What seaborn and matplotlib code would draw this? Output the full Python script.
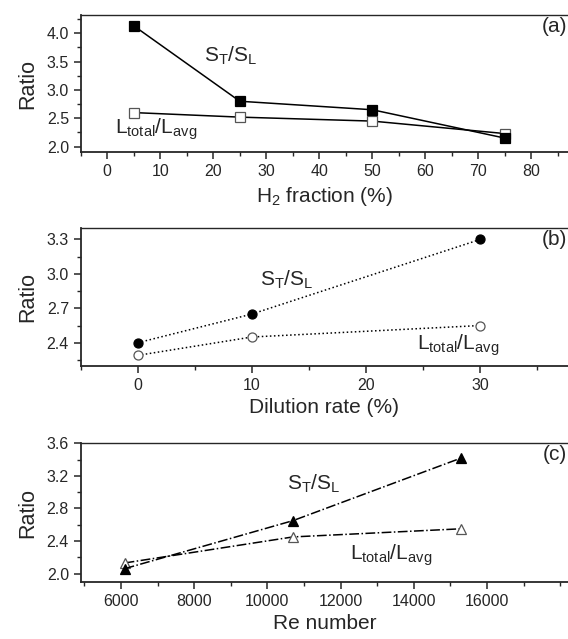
import numpy as np
import pandas as pd
import matplotlib
matplotlib.use("Agg")
import matplotlib.pyplot as plt
from matplotlib.ticker import MultipleLocator, FixedLocator
import seaborn as sns

# dados
h2_frac = [5, 25, 50, 75]
h2_st_sl = [4.13, 2.80, 2.65, 2.15]
h2_ltot = [2.60, 2.52, 2.45, 2.23]

dil_rate = [0, 10, 30]
dil_st_sl = [2.40, 2.65, 3.30]
dil_ltot = [2.29, 2.45, 2.55]

re_num = [6100, 10700, 15300]
re_st_sl = [2.06, 2.65, 3.42]
re_ltot = [2.13, 2.45, 2.55]
re_ticks = [6000, 8000, 10000, 12000, 14000, 16000]

sns.set_style("ticks")
plt.rcParams['font.family'] = ['Liberation Sans', 'DejaVu Sans']
plt.rcParams['mathtext.fontset'] = 'custom'
plt.rcParams['mathtext.rm'] = 'Liberation Sans'
plt.rcParams['mathtext.it'] = 'Liberation Sans'

W, H = 568, 639
fig = plt.figure(figsize=(W / 100, H / 100), dpi=100)

def px_axes(top, bottom, left=80.7, right=568):
    return fig.add_axes([left / W, 1 - bottom / H, (right - left) / W, (bottom - top) / H])

ax_a = px_axes(15, 152.3)
ax_b = px_axes(228, 365.7)
ax_c = px_axes(443.3, 581.7)

st_lbl = r'$\mathregular{S_T/S_L}$'
lt_lbl = r'$\mathregular{L_{total}/L_{avg}}$'

def series(ax, x, y, marker, ls, filled, ms):
    df = pd.DataFrame({'x': x, 'y': y})
    fc = 'black' if filled else 'white'
    ec = 'black' if filled else '#555555'
    sns.lineplot(data=df, x='x', y='y', ax=ax, color='black', linestyle=ls,
                 linewidth=1.1, marker=marker, markersize=ms,
                 markerfacecolor=fc, markeredgecolor=ec, markeredgewidth=0.9,
                 sort=False, errorbar=None, zorder=3 if filled else 2)

# (a)
series(ax_a, h2_frac, h2_ltot, 's', '-', False, 6.5)
series(ax_a, h2_frac, h2_st_sl, 's', '-', True, 6.5)
ax_a.set_xlim(-5, 86.9)
ax_a.set_ylim(1.9, 4.32)
ax_a.xaxis.set_major_locator(MultipleLocator(10))
ax_a.xaxis.set_minor_locator(MultipleLocator(5))
ax_a.yaxis.set_major_locator(MultipleLocator(0.5))
ax_a.yaxis.set_minor_locator(MultipleLocator(0.25))
ax_a.set_xlabel(r'H$_\mathregular{2}$ fraction (%)')
ax_a.text(18.3, 3.5, st_lbl, fontsize=15, va='baseline')
ax_a.text(1.5, 2.23, lt_lbl, fontsize=15, va='baseline')

# (b)
series(ax_b, dil_rate, dil_ltot, 'o', ':', False, 6.5)
series(ax_b, dil_rate, dil_st_sl, 'o', ':', True, 6.5)
ax_b.set_xlim(-5, 37.7)
ax_b.set_ylim(2.2, 3.4)
ax_b.xaxis.set_major_locator(MultipleLocator(10))
ax_b.xaxis.set_minor_locator(MultipleLocator(5))
ax_b.yaxis.set_major_locator(MultipleLocator(0.3))
ax_b.yaxis.set_minor_locator(MultipleLocator(0.15))
ax_b.set_xlabel('Dilution rate (%)')
ax_b.text(10.7, 2.9, st_lbl, fontsize=15, va='baseline')
ax_b.text(24.5, 2.34, lt_lbl, fontsize=15, va='baseline')

# (c)
series(ax_c, re_num, re_ltot, '^', '-.', False, 7.5)
series(ax_c, re_num, re_st_sl, '^', '-.', True, 7.5)
ax_c.set_xlim(4900, 18215)
ax_c.set_ylim(1.9, 3.6)
ax_c.xaxis.set_major_locator(FixedLocator(re_ticks))
ax_c.xaxis.set_minor_locator(MultipleLocator(1000))
ax_c.yaxis.set_major_locator(MultipleLocator(0.4))
ax_c.yaxis.set_minor_locator(MultipleLocator(0.2))
ax_c.set_xlabel('Re number')
ax_c.text(10535, 3.03, st_lbl, fontsize=15, va='baseline')
ax_c.text(12254, 2.17, lt_lbl, fontsize=15, va='baseline')

for ax, tag in zip([ax_a, ax_b, ax_c], ['(a)', '(b)', '(c)']):
    ax.set_ylabel('Ratio', fontsize=15.5, labelpad=6)
    ax.xaxis.label.set_size(15)
    ax.spines['right'].set_visible(False)
    for s in ['left', 'bottom']:
        ax.spines[s].set_linewidth(1.3)
    ax.spines['top'].set_linewidth(1.0)
    ax.tick_params(which='major', direction='out', length=5, width=1.1, labelsize=11.5, top=False, right=False)
    ax.tick_params(which='minor', direction='out', length=3, width=1.0, top=False, right=False)
    ax.text(0.998, 0.985, tag, transform=ax.transAxes, ha='right', va='top', fontsize=15)

fig.savefig('out.png', dpi=100)
